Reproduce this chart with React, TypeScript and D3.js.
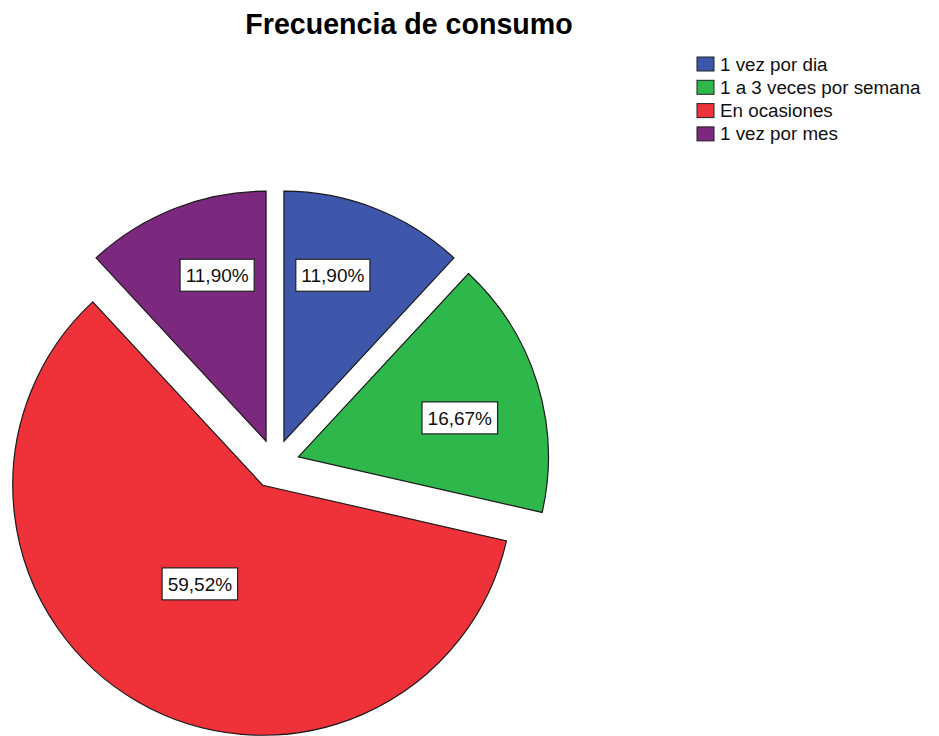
import React, { useRef, useEffect } from 'react';
import * as d3 from 'd3';

const categories = ['1 vez por dia', '1 a 3 veces por semana', 'En ocasiones', '1 vez por mes'];
const percents = [11.90, 16.67, 59.52, 11.90];
const colors = ['#3e57ab', '#2eb84b', '#ef3239', '#7b287e'];

// label placement relative to each slice tip: [distance, angle tweak in degrees]
const labelLayout: [number, number][] = [[173, -5], [166, 3.6], [117, 2.5], [173, 5]];

const W = 939;
const H = 736;

const App = () => {
  const svgRef = useRef<SVGSVGElement>(null);

  useEffect(() => {
    const svg = d3.select(svgRef.current);
    svg.selectAll('*').remove();

    const cx = 275;
    const cy = 464;
    const radius = 250;
    const explode = 24.5;
    const font = '"Liberation Sans", Arial, sans-serif';

    svg.append('text')
      .attr('x', 409)
      .attr('y', 33.5)
      .attr('text-anchor', 'middle')
      .attr('font-family', font)
      .attr('font-weight', 'bold')
      .attr('font-size', 28.6)
      .attr('fill', '#000')
      .text('Frecuencia de consumo');

    const pie = d3.pie<number>().sort(null).value(d => d);
    const arcs = pie(percents);
    const arc = d3.arc<d3.PieArcDatum<number>>().innerRadius(0).outerRadius(radius);

    const slices = svg.append('g').attr('transform', `translate(${cx},${cy})`);

    arcs.forEach((a, i) => {
      const mid = (a.startAngle + a.endAngle) / 2;
      const dx = explode * Math.sin(mid);
      const dy = -explode * Math.cos(mid);
      const g = slices.append('g').attr('transform', `translate(${dx},${dy})`);
      g.append('path')
        .attr('d', arc(a))
        .attr('fill', colors[i])
        .attr('stroke', '#1a1a1a')
        .attr('stroke-width', 1.2)
        .attr('stroke-linejoin', 'miter');
    });

    arcs.forEach((a, i) => {
      const mid = (a.startAngle + a.endAngle) / 2;
      const dx = explode * Math.sin(mid);
      const dy = -explode * Math.cos(mid);
      const [dist, tweak] = labelLayout[i];
      const ang = mid + (tweak * Math.PI) / 180;
      const lx = dx + dist * Math.sin(ang);
      const ly = dy - dist * Math.cos(ang);
      const lg = slices.append('g').attr('transform', `translate(${lx},${ly})`);
      const rect = lg.append('rect')
        .attr('fill', '#fff')
        .attr('stroke', '#222')
        .attr('stroke-width', 1.2);
      const t = lg.append('text')
        .attr('text-anchor', 'middle')
        .attr('dy', '0.36em')
        .attr('font-family', font)
        .attr('font-size', 19)
        .attr('fill', '#111')
        .text(percents[i].toFixed(2).replace('.', ',') + '%');
      const bb = (t.node() as SVGTextElement).getBBox();
      const bw = bb.width + 11;
      const bh = 32;
      rect.attr('x', -bw / 2).attr('y', -bh / 2).attr('width', bw).attr('height', bh);
    });

    const legend = svg.append('g').attr('transform', 'translate(697,57)');
    const step = 23.3;
    categories.forEach((c, i) => {
      const row = legend.append('g').attr('transform', `translate(0,${i * step})`);
      row.append('rect')
        .attr('x', 0)
        .attr('y', 0)
        .attr('width', 17)
        .attr('height', 14)
        .attr('fill', colors[i])
        .attr('stroke', '#222')
        .attr('stroke-width', 1);
      row.append('text')
        .attr('x', 23)
        .attr('y', 13.5)
        .attr('font-family', font)
        .attr('font-size', 18.8)
        .attr('fill', '#111')
        .text(c);
    });
  }, []);

  return (
    <svg
      ref={svgRef}
      width={W}
      height={H}
      style={{ position: 'fixed', left: 0, top: 0, background: '#fff' }}
    />
  );
};

export default App;
